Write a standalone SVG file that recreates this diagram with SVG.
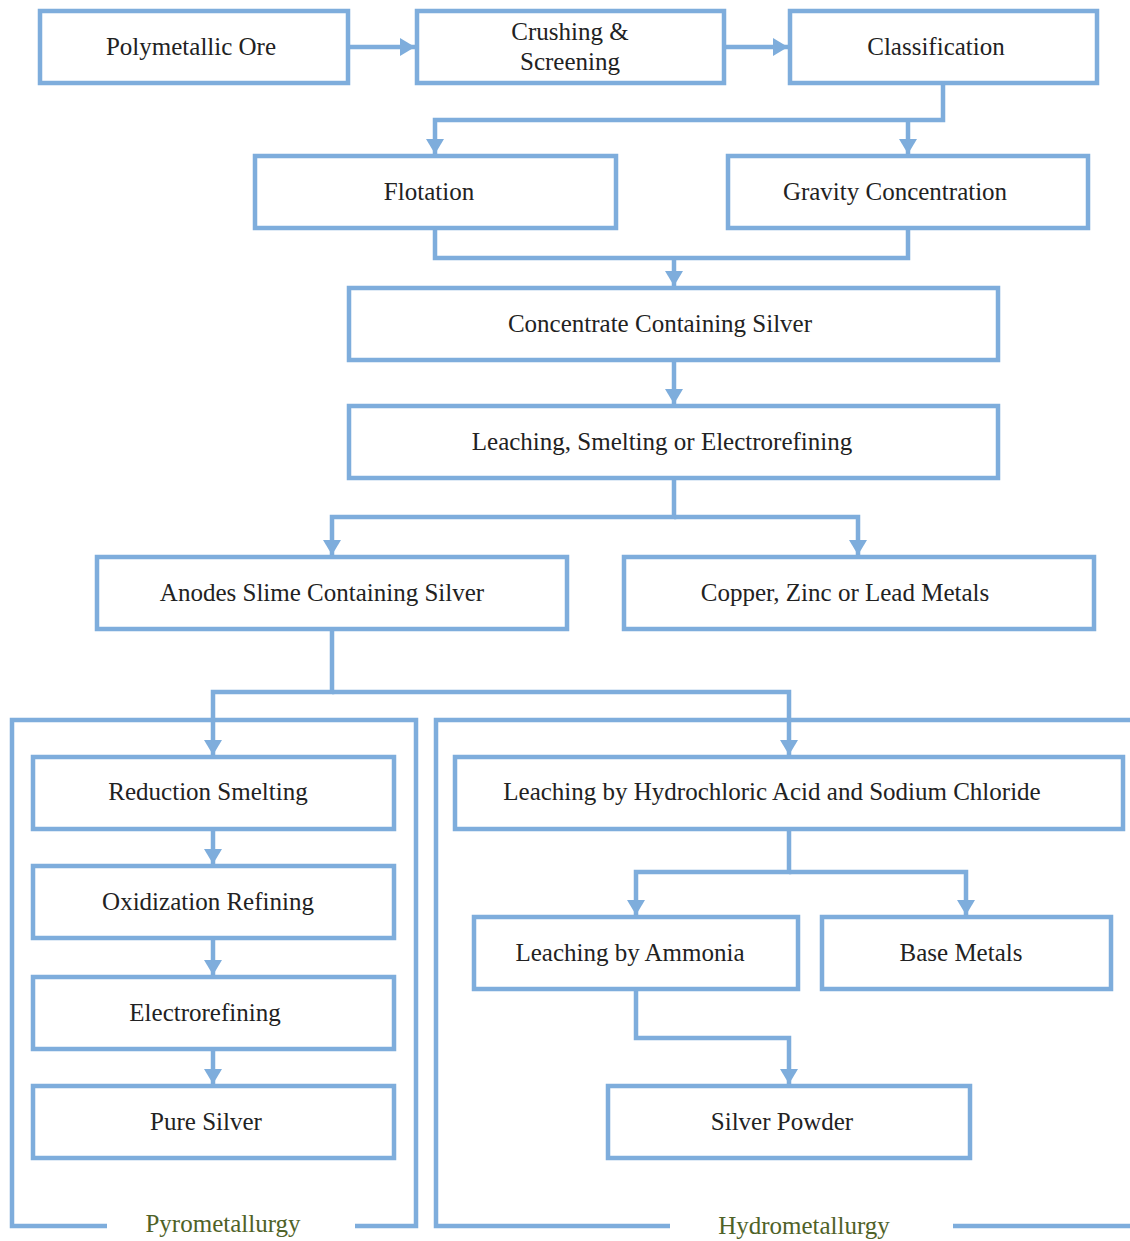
<svg xmlns="http://www.w3.org/2000/svg" width="1130" height="1241" viewBox="0 0 1130 1241">
<style>
.box{fill:#fff;stroke:#7eaddc;stroke-width:4.5}
.grp{fill:none;stroke:#7eaddc;stroke-width:4.5}
.c{fill:none;stroke:#7eaddc;stroke-width:4.5}
.t{font-family:"Liberation Serif","Times New Roman",serif;font-size:25px;fill:#222;text-anchor:middle}
.g{font-family:"Liberation Serif","Times New Roman",serif;font-size:25px;fill:#4f6228;text-anchor:middle}
</style>
<defs>
<marker id="ah" markerUnits="userSpaceOnUse" markerWidth="16" markerHeight="18" refX="15" refY="9" orient="auto" viewBox="0 0 16 18">
<path d="M0,0 L15,9 L0,18 z" fill="#7eaddc"/>
</marker>
</defs>
<g id="groups">
<path class="grp" d="M107,1226 H12 V720 H416 V1226 H355"/>
<path class="grp" d="M670,1226 H436 V720 H1132"/>
<path class="grp" d="M953,1226 H1132"/>
<text class="g" x="223" y="1232">Pyrometallurgy</text>
<text class="g" x="804" y="1234">Hydrometallurgy</text>
</g>
<g id="connectors">
<path class="c" d="M348,47 H415" marker-end="url(#ah)"/>
<path class="c" d="M724,47 H788" marker-end="url(#ah)"/>
<path class="c" d="M943,83 V120 H435 V154" marker-end="url(#ah)"/>
<path class="c" d="M908,120 V154" marker-end="url(#ah)"/>
<path class="c" d="M435,228 V258 H908 V228"/>
<path class="c" d="M674,258 V286" marker-end="url(#ah)"/>
<path class="c" d="M674,360 V404" marker-end="url(#ah)"/>
<path class="c" d="M674,478 V517 H332 V555" marker-end="url(#ah)"/>
<path class="c" d="M674,517 H858 V555" marker-end="url(#ah)"/>
<path class="c" d="M332,629 V692 H213 V755" marker-end="url(#ah)"/>
<path class="c" d="M332,692 H789 V755" marker-end="url(#ah)"/>
<path class="c" d="M213,829 V864" marker-end="url(#ah)"/>
<path class="c" d="M213,938 V975" marker-end="url(#ah)"/>
<path class="c" d="M213,1049 V1084" marker-end="url(#ah)"/>
<path class="c" d="M789,829 V872 H636 V915" marker-end="url(#ah)"/>
<path class="c" d="M789,872 H966 V915" marker-end="url(#ah)"/>
<path class="c" d="M636,989 V1038 H789 V1084" marker-end="url(#ah)"/>
</g>
<g id="n-ore"><rect class="box" x="40" y="11" width="308" height="72"/><text class="t" x="191" y="55">Polymetallic Ore</text></g>
<g id="n-crush"><rect class="box" x="417" y="11" width="307" height="72"/><text class="t" x="570" y="40">Crushing &amp;</text><text class="t" x="570" y="70">Screening</text></g>
<g id="n-class"><rect class="box" x="790" y="11" width="307" height="72"/><text class="t" x="936" y="55">Classification</text></g>
<g id="n-flot"><rect class="box" x="255" y="156" width="361" height="72"/><text class="t" x="429" y="200">Flotation</text></g>
<g id="n-grav"><rect class="box" x="728" y="156" width="360" height="72"/><text class="t" x="895" y="200">Gravity Concentration</text></g>
<g id="n-conc"><rect class="box" x="349" y="288" width="649" height="72"/><text class="t" x="660" y="332">Concentrate Containing Silver</text></g>
<g id="n-leach"><rect class="box" x="349" y="406" width="649" height="72"/><text class="t" x="662" y="450">Leaching, Smelting or Electrorefining</text></g>
<g id="n-anode"><rect class="box" x="97" y="557" width="470" height="72"/><text class="t" x="322" y="601">Anodes Slime Containing Silver</text></g>
<g id="n-copper"><rect class="box" x="624" y="557" width="470" height="72"/><text class="t" x="845" y="601">Copper, Zinc or Lead Metals</text></g>
<g id="n-red"><rect class="box" x="33" y="757" width="361" height="72"/><text class="t" x="208" y="800">Reduction Smelting</text></g>
<g id="n-oxid"><rect class="box" x="33" y="866" width="361" height="72"/><text class="t" x="208" y="910">Oxidization Refining</text></g>
<g id="n-elec"><rect class="box" x="33" y="977" width="361" height="72"/><text class="t" x="205" y="1021">Electrorefining</text></g>
<g id="n-pure"><rect class="box" x="33" y="1086" width="361" height="72"/><text class="t" x="206" y="1130">Pure Silver</text></g>
<g id="n-hcl"><rect class="box" x="455" y="757" width="668" height="72"/><text class="t" x="772" y="800">Leaching by Hydrochloric Acid and Sodium Chloride</text></g>
<g id="n-amm"><rect class="box" x="474" y="917" width="324" height="72"/><text class="t" x="630" y="961">Leaching by Ammonia</text></g>
<g id="n-base"><rect class="box" x="822" y="917" width="289" height="72"/><text class="t" x="961" y="961">Base Metals</text></g>
<g id="n-powder"><rect class="box" x="608" y="1086" width="362" height="72"/><text class="t" x="782" y="1130">Silver Powder</text></g>
</svg>
